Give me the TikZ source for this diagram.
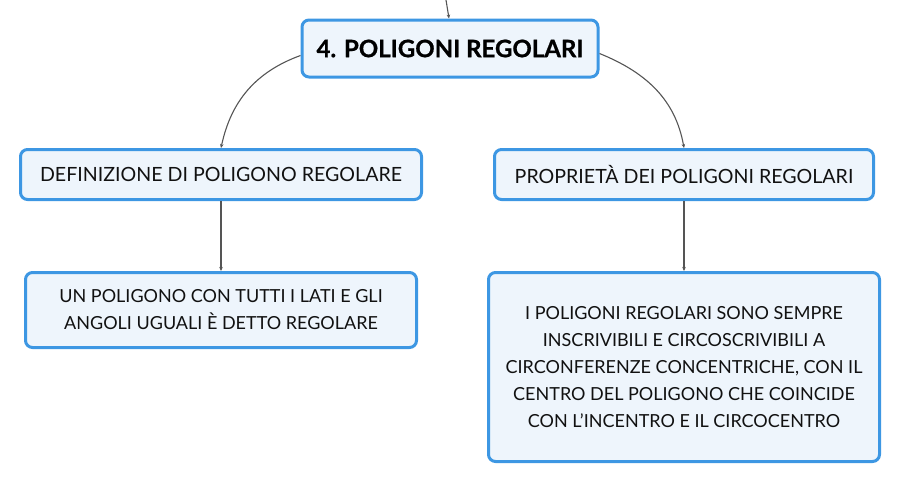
\documentclass[tikz,border=0pt]{standalone}
\usepackage{fontspec}
\setmainfont{Lato}
\newfontfamily\heavyfont{Lato}[BoldFeatures={FakeBold=0.8}]
\usetikzlibrary{arrows.meta}
\definecolor{bordblue}{HTML}{3D97E3}
\definecolor{fillblue}{HTML}{EEF5FC}
\definecolor{linegray}{HTML}{555555}
\definecolor{txt}{HTML}{111111}
\tikzset{
  box/.style={draw=bordblue, fill=fillblue, line width=3pt, rounded corners=7pt,
    align=center, inner sep=0pt, text=txt},
  conn/.style={draw=linegray, line width=1.1pt, -{Stealth[length=4pt,width=3.5pt]}}
}
\begin{document}
\begin{tikzpicture}[x=1pt,y=-1pt]
\useasboundingbox (0,0) rectangle (901,483);
\node[box, minimum width=296pt, minimum height=57pt, font=\heavyfont\fontsize{24}{28}\selectfont\bfseries, text=black] (top) at (450,48.5) {4. POLIGONI REGOLARI};
\node[box, minimum width=401pt, minimum height=50pt, font=\fontsize{19.6}{23}\selectfont] (def) at (221,174.5) {DEFINIZIONE DI POLIGONO REGOLARE};
\node[box, minimum width=379pt, minimum height=50pt, font=\fontsize{19.6}{23}\selectfont] (prop) at (684,174.5) {PROPRIETÀ DEI POLIGONI REGOLARI};
\node[box, minimum width=391pt, minimum height=75pt, font=\fontsize{18}{27}\selectfont] (ug) at (221,310) {UN POLIGONO CON TUTTI I LATI E GLI\\ANGOLI UGUALI È DETTO REGOLARE};
\node[box, minimum width=391pt, minimum height=189pt, font=\fontsize{18}{27}\selectfont] (pp) at (684,367) {I POLIGONI REGOLARI SONO SEMPRE\\INSCRIVIBILI E CIRCOSCRIVIBILI A\\CIRCONFERENZE CONCENTRICHE, CON IL\\CENTRO DEL POLIGONO CHE COINCIDE\\CON L'INCENTRO E IL CIRCOCENTRO};
\coordinate (src) at (446,0);
\draw[conn] (src) -- (top.north -| 449,0);
\draw[conn] ([yshift=-7pt]top.west) to[out=200, in=78] (def.north);
\draw[conn] ([yshift=-5pt]top.east) to[out=-22, in=100] (prop.north);
\draw[conn] (def.south) -- (ug.north);
\draw[conn] (prop.south) -- (pp.north);
\end{tikzpicture}
\end{document}
